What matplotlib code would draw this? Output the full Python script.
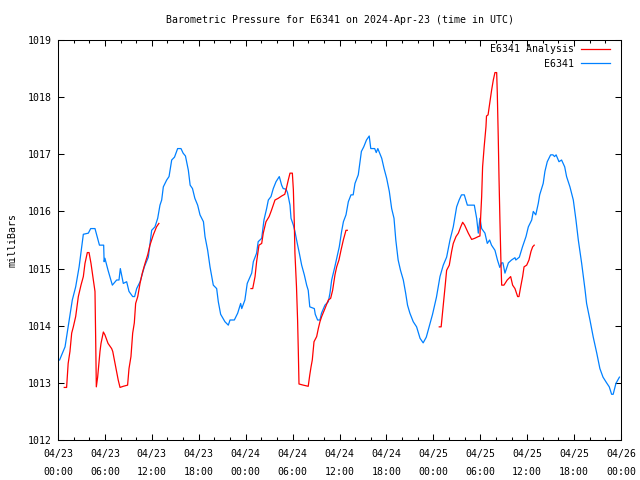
import matplotlib
matplotlib.use("Agg")
import matplotlib.pyplot as plt
import numpy as np

# hours since 04/23 00:00 UTC
obs_hours = [0.2, 0.9, 1.3, 1.83, 2.26, 2.7, 3.03, 3.24, 3.88, 4.18, 4.73, 5.3, 5.84, 5.9, 6.0,
             6.4, 6.95, 7.5, 7.8, 7.97, 8.35, 8.78, 9.08, 9.55, 9.8, 10.06, 10.5, 11.04, 11.55,
             11.98, 12.4, 12.75, 13.04, 13.26, 13.47, 13.9, 14.2, 14.54, 14.9, 15.3, 15.73, 16.0,
             16.3, 16.67, 16.9, 17.2, 17.5, 17.86, 18.16, 18.6, 18.8, 19.14, 19.44, 19.86, 20.29,
             20.5, 20.8, 21.35, 21.78, 22.0, 22.55, 22.98, 23.36, 23.5, 23.9, 24.2, 24.77, 24.98,
             25.4, 25.6, 26.05, 26.34, 26.68, 26.9, 27.24, 27.53, 27.88, 28.3, 28.6, 28.8, 29.16,
             29.35, 29.67, 29.8, 30.1, 30.3, 30.6, 30.86, 31.16, 31.5, 31.8, 32.0, 32.2, 32.78,
             32.9, 33.2, 33.5, 33.7, 34.14, 34.57, 34.78, 35.0, 35.4, 35.64, 35.97, 36.27, 36.5,
             36.83, 37.13, 37.47, 37.75, 37.98, 38.4, 38.6, 38.8, 39.1, 39.45, 39.8, 40.0, 40.5,
             40.7, 40.9, 41.4, 41.7, 42.03, 42.37, 42.67, 42.97, 43.2, 43.5, 43.8, 44.16, 44.46,
             44.7, 45.0, 45.43, 45.86, 46.3, 46.7, 47.1, 47.5, 47.9, 48.4, 48.85, 49.27, 49.7,
             50.13, 50.55, 50.98, 51.3, 51.6, 51.96, 52.35, 53.24, 53.54, 53.75, 53.96, 54.18,
             54.6, 54.9, 55.2, 55.44, 55.88, 56.2, 56.5, 56.73, 56.9, 57.16, 57.6, 58.0, 58.44,
             58.55, 59.0, 59.4, 59.85, 60.15, 60.58, 60.78, 61.1, 61.42, 61.6, 62.05, 62.27,
             62.57, 63.0, 63.3, 63.5, 63.7, 64.07, 64.4, 64.8, 65.04, 65.47, 65.9, 66.24, 66.54,
             66.97, 67.4, 67.6, 68.03, 68.45, 68.9, 69.3, 69.7, 70.16, 70.5, 70.8, 71.0, 71.35, 71.8]
obs_mb = [1013.40, 1013.63, 1013.98, 1014.45, 1014.68, 1015.03, 1015.38, 1015.60, 1015.62, 1015.70,
          1015.70, 1015.41, 1015.41, 1015.12, 1015.18, 1014.97, 1014.71, 1014.80, 1014.80, 1015.00,
          1014.74, 1014.77, 1014.60, 1014.51, 1014.51, 1014.65, 1014.77, 1015.03, 1015.20, 1015.67,
          1015.73, 1015.88, 1016.11, 1016.20, 1016.43, 1016.55, 1016.61, 1016.90, 1016.95, 1017.10,
          1017.10, 1017.02, 1016.97, 1016.72, 1016.46, 1016.40, 1016.23, 1016.11, 1015.94, 1015.82,
          1015.56, 1015.32, 1015.03, 1014.71, 1014.65, 1014.42, 1014.20, 1014.07, 1014.01, 1014.10,
          1014.10, 1014.22, 1014.39, 1014.30, 1014.45, 1014.74, 1014.92, 1015.12, 1015.27, 1015.47,
          1015.53, 1015.85, 1016.05, 1016.20, 1016.26, 1016.40, 1016.52, 1016.61, 1016.46, 1016.40,
          1016.39, 1016.33, 1016.11, 1015.88, 1015.76, 1015.65, 1015.44, 1015.27, 1015.06, 1014.89,
          1014.71, 1014.62, 1014.33, 1014.30, 1014.20, 1014.10, 1014.10, 1014.22, 1014.36, 1014.42,
          1014.57, 1014.80, 1015.03, 1015.18, 1015.38, 1015.65, 1015.82, 1015.94, 1016.17, 1016.29,
          1016.29, 1016.49, 1016.64, 1016.84, 1017.05, 1017.13, 1017.25, 1017.32, 1017.10, 1017.10,
          1017.03, 1017.10, 1016.93, 1016.75, 1016.58, 1016.35, 1016.05, 1015.88, 1015.50, 1015.15,
          1014.97, 1014.80, 1014.57, 1014.36, 1014.22, 1014.07, 1013.98, 1013.78, 1013.70, 1013.80,
          1014.00, 1014.20, 1014.50, 1014.86, 1015.06, 1015.20, 1015.50, 1015.73, 1016.08, 1016.20,
          1016.29, 1016.29, 1016.11, 1016.11, 1015.88, 1015.62, 1015.88, 1015.70, 1015.62, 1015.44,
          1015.50, 1015.41, 1015.32, 1015.15, 1015.02, 1015.10, 1015.10, 1014.92, 1015.10, 1015.15,
          1015.19, 1015.15, 1015.20, 1015.38, 1015.56, 1015.73, 1015.85, 1016.00, 1015.94, 1016.14,
          1016.29, 1016.49, 1016.70, 1016.87, 1016.99, 1016.99, 1016.96, 1016.99, 1016.87, 1016.90,
          1016.78, 1016.61, 1016.43, 1016.20, 1015.85, 1015.50, 1015.09, 1014.63, 1014.39, 1014.10,
          1013.80, 1013.52, 1013.25, 1013.10, 1013.00, 1012.93, 1012.80, 1012.80, 1012.99, 1013.10]

# analysis runs (three separate pieces)
ana1_hours = [0.8, 1.1, 1.3, 1.53, 1.75, 1.96, 2.26, 2.6, 2.94, 3.24, 3.45, 3.75, 3.97, 4.22, 4.52,
              4.73, 4.82, 4.9, 5.07, 5.37, 5.5, 5.8, 6.0, 6.4, 6.86, 7.0, 7.42, 7.7, 7.93, 8.35,
              8.9, 9.08, 9.33, 9.55, 9.76, 9.93, 10.2, 10.49, 10.78, 11.13, 11.47, 11.76, 12.19,
              12.6, 12.9]
ana1_mb = [1012.92, 1012.92, 1013.34, 1013.55, 1013.87, 1013.98, 1014.16, 1014.51, 1014.71, 1014.86,
           1015.09, 1015.28, 1015.28, 1015.09, 1014.80, 1014.60, 1013.75, 1012.93, 1013.10, 1013.55,
           1013.69, 1013.89, 1013.84, 1013.69, 1013.60, 1013.55, 1013.25, 1013.05, 1012.92, 1012.94,
           1012.96, 1013.25, 1013.46, 1013.87, 1014.05, 1014.39, 1014.51, 1014.74, 1014.92, 1015.09,
           1015.24, 1015.41, 1015.59, 1015.73, 1015.79]

ana2_hours = [24.68, 24.9, 25.2, 25.4, 25.7, 26.05, 26.25, 26.6, 27.0, 27.3, 27.75, 28.17, 28.6,
              29.0, 29.2, 29.45, 29.67, 29.97, 30.1, 30.22, 30.3, 30.5, 30.64, 30.73, 30.82, 31.37,
              32.0, 32.2, 32.36, 32.52, 32.74, 33.08, 33.29, 33.5, 33.72, 34.14, 34.57, 34.87,
              35.12, 35.42, 35.64, 35.93, 36.19, 36.49, 36.83, 37.0]
ana2_mb = [1014.65, 1014.65, 1014.86, 1015.12, 1015.41, 1015.44, 1015.62, 1015.82, 1015.91, 1016.02,
           1016.20, 1016.23, 1016.27, 1016.30, 1016.40, 1016.55, 1016.67, 1016.67, 1016.38, 1015.79,
           1015.27, 1014.68, 1014.10, 1013.57, 1012.98, 1012.96, 1012.94, 1013.14, 1013.28, 1013.40,
           1013.72, 1013.81, 1013.95, 1014.07, 1014.16, 1014.30, 1014.45, 1014.48, 1014.62, 1014.89,
           1015.03, 1015.15, 1015.32, 1015.50, 1015.67, 1015.67]

ana3_hours = [48.76, 49.0, 49.27, 49.5, 49.7, 50.04, 50.34, 50.55, 50.9, 51.2, 51.5, 51.75, 52.0,
              52.47, 52.9, 53.3, 53.75, 53.96, 54.05, 54.18, 54.3, 54.5, 54.73, 54.8, 55.0, 55.24,
              55.45, 55.67, 55.88, 56.1, 56.18, 56.3, 56.4, 56.52, 56.65, 56.74, 57.03, 57.45,
              57.89, 58.14, 58.44, 58.78, 58.95, 59.17, 59.42, 59.6, 59.94, 60.23, 60.49, 60.7, 60.9]
ana3_mb = [1013.98, 1013.98, 1014.36, 1014.68, 1014.97, 1015.06, 1015.30, 1015.44, 1015.56, 1015.62,
           1015.73, 1015.81, 1015.76, 1015.62, 1015.51, 1015.53, 1015.56, 1015.57, 1015.90, 1016.26,
           1016.78, 1017.13, 1017.48, 1017.67, 1017.69, 1017.92, 1018.12, 1018.30, 1018.43, 1018.43,
           1018.07, 1017.31, 1016.58, 1015.82, 1015.09, 1014.71, 1014.71, 1014.80, 1014.86, 1014.71,
           1014.65, 1014.51, 1014.51, 1014.68, 1014.86, 1015.03, 1015.06, 1015.15, 1015.30, 1015.38,
           1015.41]

tick_hours = list(range(0, 73, 6))
tick_labels = ["04/23\n00:00", "04/23\n06:00", "04/23\n12:00", "04/23\n18:00",
               "04/24\n00:00", "04/24\n06:00", "04/24\n12:00", "04/24\n18:00",
               "04/25\n00:00", "04/25\n06:00", "04/25\n12:00", "04/25\n18:00",
               "04/26\n00:00"]

plt.rcParams['font.family'] = ['DejaVu Sans Mono']
fs = 7.1

fig = plt.figure(figsize=(6.4, 4.8), dpi=100)
ax = fig.add_axes([58/640, 40/480, (621-58)/640, 400/480])

blue, = ax.plot(obs_hours, obs_mb, color="#0080ff", lw=0.9, label="E6341")
red, = ax.plot(ana1_hours, ana1_mb, color="#ff0000", lw=0.9, label="E6341 Analysis")
ax.plot(ana2_hours, ana2_mb, color="#ff0000", lw=0.9)
ax.plot(ana3_hours, ana3_mb, color="#ff0000", lw=0.9)

ax.set_xlim(0, 72)
ax.set_ylim(1012, 1019)
ax.set_xticks(tick_hours)
ax.set_xticklabels(tick_labels, fontsize=fs, linespacing=2.0)
ax.set_xticks(range(0, 73, 2), minor=True)
ax.set_yticks(range(1012, 1020))
ax.set_yticklabels([str(v) for v in range(1012, 1020)], fontsize=fs)
ax.tick_params(axis="both", which="major", direction="in", length=4.3, width=0.75,
               top=True, right=True, pad=4.5)
ax.tick_params(axis="x", which="minor", direction="in", length=2.2, width=0.75, top=True)
ax.tick_params(axis="x", which="major", pad=6.5)
for s in ax.spines.values():
    s.set_linewidth(0.75)

fig.text(12.3/640, 0.5, "milliBars", rotation=90, ha="center", va="center", fontsize=fs)
fig.text(339.5/640, 1 - 20/480, "Barometric Pressure for E6341 on 2024-Apr-23 (time in UTC)",
         ha="center", va="center", fontsize=fs)

ax.legend(handles=[red, blue], loc="upper right", frameon=False, markerfirst=False,
          fontsize=fs, handlelength=2.87, handletextpad=0.68, labelspacing=0.45,
          borderaxespad=0, borderpad=0,
          bbox_to_anchor=(609.5/640, 1 - 44.5/480), bbox_transform=fig.transFigure)

fig.savefig("out.png", dpi=100)
